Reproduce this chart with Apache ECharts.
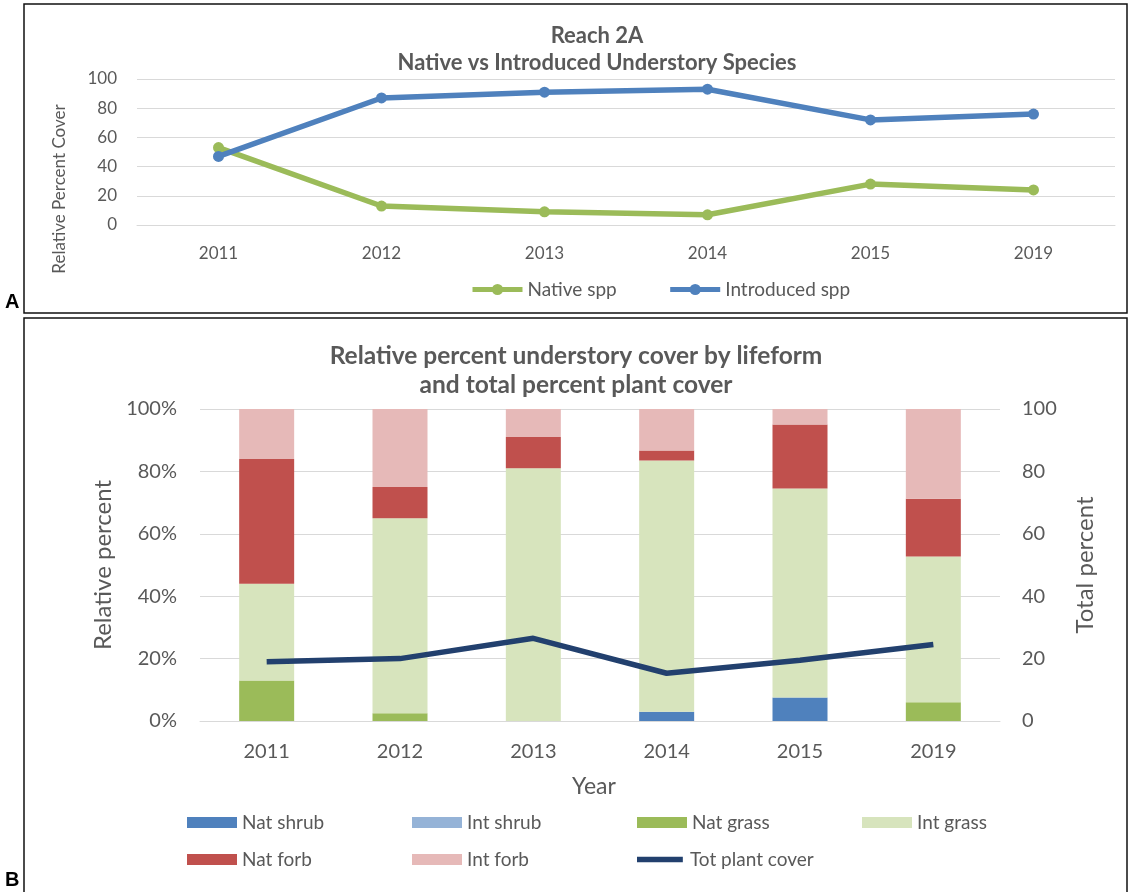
<!DOCTYPE html>
<html>
<head>
<meta charset="utf-8">
<script src="https://cdn.jsdelivr.net/npm/echarts@6/dist/echarts.min.js"></script>
<style>
  html, body { margin: 0; padding: 0; background: #fff; }
  #main { width: 1129px; height: 892px; }
</style>
</head>
<body>
<div id="main"></div>
<script>
// chart A data
const yearsA = ['2011', '2012', '2013', '2014', '2015', '2019']
const nativeSpp = [53, 13, 9, 7, 28, 24]
const introducedSpp = [47, 87, 91, 93, 72, 76]

// chart B data
const yearsB = ['2011', '2012', '2013', '2014', '2015', '2019']
const natShrub = [0, 0, 0, 3, 7.5, 0]
const intShrub = [0, 0, 0, 0, 0, 0]
const natGrass = [13, 2.5, 0, 0, 0, 6]
const intGrass = [31, 62.5, 81, 80.5, 67, 46.7]
const natForb = [40, 10, 10, 3.2, 20.5, 18.5]
const intForb = [16, 25, 9, 13.3, 5, 28.8]
const totPlantCover = [19, 20, 26.5, 15.3, 19.5, 24.5]

const font = 'Lato, "Open Sans", sans-serif'
const grey = '#595959'
const gridLine = '#D9D9D9'
// thick line icon for the total cover legend entry (moves keep the 50x12 box)
const lineIcon = 'path://M0,0 M50,12 M0,3 L50,3 L50,9 L0,9 Z'

const myChart = echarts.init(document.getElementById('main'), null, { renderer: 'canvas' })

const barSeries = [
  { name: 'Nat shrub', data: natShrub, color: '#4F81BD' },
  { name: 'Int shrub', data: intShrub, color: '#95B3D7' },
  { name: 'Nat grass', data: natGrass, color: '#9BBB59' },
  { name: 'Int grass', data: intGrass, color: '#D7E4BD' },
  { name: 'Nat forb', data: natForb, color: '#C0504D' },
  { name: 'Int forb', data: intForb, color: '#E6B9B8' }
].map((s) => ({
  name: s.name,
  type: 'bar',
  stack: 'life',
  xAxisIndex: 1,
  yAxisIndex: 1,
  barWidth: 55,
  itemStyle: { color: s.color },
  data: s.data
}))

const option = {
  animation: false,
  textStyle: { fontFamily: font },
  title: [
    {
      text: 'Reach 2A\nNative vs Introduced Understory Species',
      left: 597,
      top: 22,
      padding: 0,
      textAlign: 'center',
      textStyle: { fontSize: 22, fontWeight: 'bold', color: grey, lineHeight: 27, fontFamily: font }
    },
    {
      text: 'Relative percent understory cover by lifeform\nand total percent plant cover',
      left: 576,
      top: 342,
      padding: 0,
      textAlign: 'center',
      textStyle: { fontSize: 24.5, fontWeight: 'bold', color: grey, lineHeight: 29, fontFamily: font }
    }
  ],
  legend: [
    {
      left: 470,
      top: 280,
      padding: 0,
      itemWidth: 50,
      itemHeight: 14,
      itemGap: 51,
      lineStyle: { width: 5 },
      data: ['Native spp', 'Introduced spp'],
      textStyle: { fontSize: 19, color: grey, fontFamily: font }
    },
    {
      left: 187,
      top: 804,
      padding: 0,
      width: 920,
      itemWidth: 50,
      itemHeight: 11,
      itemGap: 0,
      data: [
        { name: 'Nat shrub', icon: 'rect' },
        { name: 'Int shrub', icon: 'rect' },
        { name: 'Nat grass', icon: 'rect' },
        { name: 'Int grass', icon: 'rect' },
        { name: 'Nat forb', icon: 'rect' },
        { name: 'Int forb', icon: 'rect' },
        { name: 'Tot plant cover', icon: lineIcon }
      ],
      textStyle: { fontSize: 19, color: grey, width: 170, lineHeight: 37, fontFamily: font }
    }
  ],
  grid: [
    { left: 137, top: 79, width: 978, height: 146 },
    { left: 200, top: 409, width: 800, height: 312 }
  ],
  xAxis: [
    {
      type: 'category',
      gridIndex: 0,
      data: yearsA,
      axisLine: { lineStyle: { color: gridLine } },
      axisTick: { show: false },
      axisLabel: { color: grey, fontSize: 17, margin: 20 }
    },
    {
      type: 'category',
      gridIndex: 1,
      data: yearsB,
      axisLine: { lineStyle: { color: gridLine } },
      axisTick: { show: false },
      axisLabel: { color: grey, fontSize: 20, margin: 21 }
    }
  ],
  yAxis: [
    {
      type: 'value',
      gridIndex: 0,
      min: 0,
      max: 100,
      interval: 20,
      axisLabel: { color: grey, fontSize: 17, margin: 20 },
      splitLine: { lineStyle: { color: gridLine } }
    },
    {
      type: 'value',
      gridIndex: 1,
      min: 0,
      max: 100,
      interval: 20,
      axisLabel: { color: grey, fontSize: 20, margin: 23, formatter: '{value}%' },
      splitLine: { lineStyle: { color: gridLine } }
    },
    {
      type: 'value',
      gridIndex: 1,
      position: 'right',
      min: 0,
      max: 100,
      interval: 20,
      axisLine: { show: false },
      axisLabel: { color: grey, fontSize: 20, margin: 22 },
      splitLine: { show: false }
    }
  ],
  series: [
    {
      name: 'Native spp',
      type: 'line',
      xAxisIndex: 0,
      yAxisIndex: 0,
      symbol: 'circle',
      symbolSize: 11,
      lineStyle: { width: 5.5, color: '#9BBB59' },
      itemStyle: { color: '#9BBB59' },
      data: nativeSpp
    },
    {
      name: 'Introduced spp',
      type: 'line',
      xAxisIndex: 0,
      yAxisIndex: 0,
      symbol: 'circle',
      symbolSize: 11,
      lineStyle: { width: 5.5, color: '#4F81BD' },
      itemStyle: { color: '#4F81BD' },
      data: introducedSpp
    },
    ...barSeries,
    {
      name: 'Tot plant cover',
      type: 'line',
      xAxisIndex: 1,
      yAxisIndex: 2,
      symbol: 'none',
      z: 5,
      lineStyle: { width: 5.5, color: '#22406E' },
      itemStyle: { color: '#22406E' },
      data: totPlantCover
    }
  ],
  graphic: [
    // panel borders
    { type: 'rect', shape: { x: 24, y: 4, width: 1103, height: 309 }, style: { fill: null, stroke: '#111', lineWidth: 1.5 }, silent: true },
    { type: 'rect', shape: { x: 24, y: 318, width: 1103, height: 590 }, style: { fill: null, stroke: '#111', lineWidth: 1.5 }, silent: true },
    // panel letters
    { type: 'text', x: 5, y: 292, style: { text: 'A', font: 'bold 20px "Liberation Sans", Arial, sans-serif', fill: '#000' } },
    { type: 'text', x: 5, y: 870, style: { text: 'B', font: 'bold 20px "Liberation Sans", Arial, sans-serif', fill: '#000' } },
    // axis titles
    { type: 'text', x: 60, y: 189, rotation: Math.PI / 2, style: { text: 'Relative Percent Cover', font: '17px ' + font, fill: grey, align: 'center', verticalAlign: 'middle' } },
    { type: 'text', x: 103, y: 565, rotation: Math.PI / 2, style: { text: 'Relative percent', font: '24px ' + font, fill: grey, align: 'center', verticalAlign: 'middle' } },
    { type: 'text', x: 1085, y: 565, rotation: Math.PI / 2, style: { text: 'Total percent', font: '24px ' + font, fill: grey, align: 'center', verticalAlign: 'middle' } },
    { type: 'text', x: 594, y: 787, style: { text: 'Year', font: '23px ' + font, fill: grey, align: 'center', verticalAlign: 'middle' } }
  ]
}

myChart.setOption(option)
</script>
</body>
</html>
